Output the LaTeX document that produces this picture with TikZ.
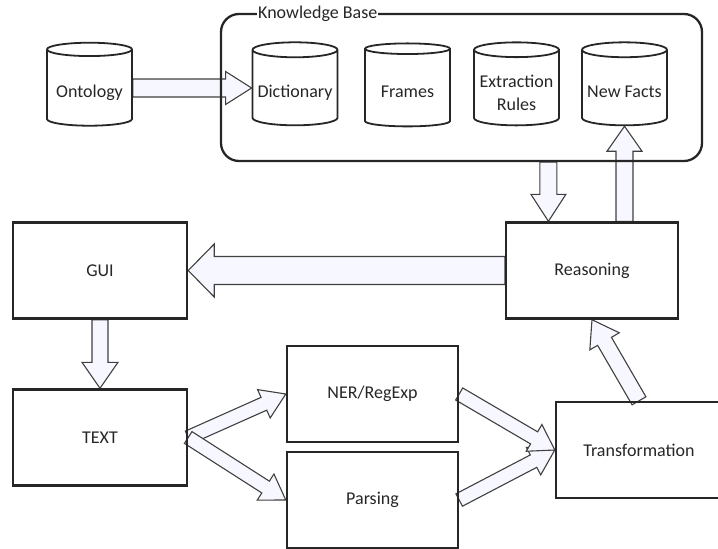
\documentclass[tikz,border=0pt]{standalone}
\usepackage{fontspec}
\setmainfont{Carlito}
\usepackage{tikz}
\usetikzlibrary{positioning}
\usetikzlibrary{shapes.geometric}
\usetikzlibrary{calc}
\usetikzlibrary{backgrounds}
\tikzset{
	blk/.style={draw=black!85, line width=2.4pt, minimum width=172pt, minimum height=96pt, inner sep=0pt},
	db/.style={cylinder, shape border rotate=90, aspect=0.2, draw=black!85, line width=1.8pt, minimum width=85pt, minimum height=83pt, inner sep=0pt, align=center, text height=22.5pt, text depth=3pt},
	fatarrow/.style={draw=black!75, line width=1.1pt, fill=blue!3!white, line join=miter},
}
% block arrow: from, to, half shaft, half head, head length
\newcommand{\bigarrow}[5]{%
	\filldraw[fatarrow] ($(#1)!#3!90:(#2)$)
		-- ($(#2)!#5!(#1)!#3!-90:(#1)$)
		-- ($(#2)!#5!(#1)!#4!-90:(#1)$)
		-- (#2)
		-- ($(#2)!#5!(#1)!#4!90:(#1)$)
		-- ($(#2)!#5!(#1)!#3!90:(#1)$)
		-- ($(#1)!#3!-90:(#2)$) -- cycle;}

\begin{document}
\begin{tikzpicture}[x=1pt, y=-1pt, font=\fontsize{18}{23}\selectfont, text=black!85]
		\useasboundingbox (0,0) rectangle (718,549);
		% knowledge base
		\node[draw=black!85, line width=2.3pt, rounded corners=18pt, minimum width=481pt, minimum height=147pt] (kb) at (461.5,87.5) {};
		\node[fill=white, inner sep=1pt, anchor=west] (kbtitle) at (257,14) {Knowledge Base};
		\node[db] (ont) at (89.5,88) {Ontology};
		\node[db] (dict) at (295,88) {Dictionary};
		\node[db] (frm) at (407.5,88) {Frames};
		\node[db, text height=48.5pt] (ext) at (516.5,88) {Extraction\\Rules};
		\node[db] (nf) at (624.5,88) {New Facts};
		% processing boxes
		\node[blk, minimum width=174pt] (gui) at (100,270.5) {GUI};
		\node[blk] (rsn) at (592,270.5) {Reasoning};
		\node[blk, minimum width=174pt] (txt) at (100,437.5) {TEXT};
		\node[blk, minimum width=171pt] (ner) at (372.5,394) {NER/RegExp};
		\node[blk, minimum width=171pt] (prs) at (372.5,500) {Parsing};
		\node[blk, minimum width=166pt] (trf) at (639,450) {Transformation};
		\coordinate (rsnin) at ($(rsn.north west)!0.25!(rsn.north east)$);
		\coordinate (kbout) at (kb.south -| rsnin);
		\coordinate (rsnout) at (rsn.north -| nf.south);
		\begin{scope}[on background layer]
			\bigarrow{ont.east}{dict.west}{9pt}{16.5pt}{26pt}
			\bigarrow{kbout}{rsnin}{8.5pt}{17.5pt}{27pt}
			\bigarrow{rsnout}{nf.south}{8.5pt}{17.5pt}{25pt}
			\bigarrow{rsn.west}{gui.east}{14pt}{26.5pt}{26pt}
			\bigarrow{gui.south}{txt.north}{8pt}{18pt}{26pt}
			\bigarrow{txt.east}{ner.west}{7pt}{15.5pt}{24pt}
			\bigarrow{txt.east}{prs.west}{7pt}{15.5pt}{24pt}
			\bigarrow{prs.east}{trf.west}{7pt}{15.5pt}{24pt}
			\bigarrow{ner.east}{trf.west}{7pt}{15.5pt}{24pt}
			\bigarrow{trf.north}{rsn.south}{8pt}{17pt}{25pt}
		\end{scope}
	\end{tikzpicture}
\end{document}
